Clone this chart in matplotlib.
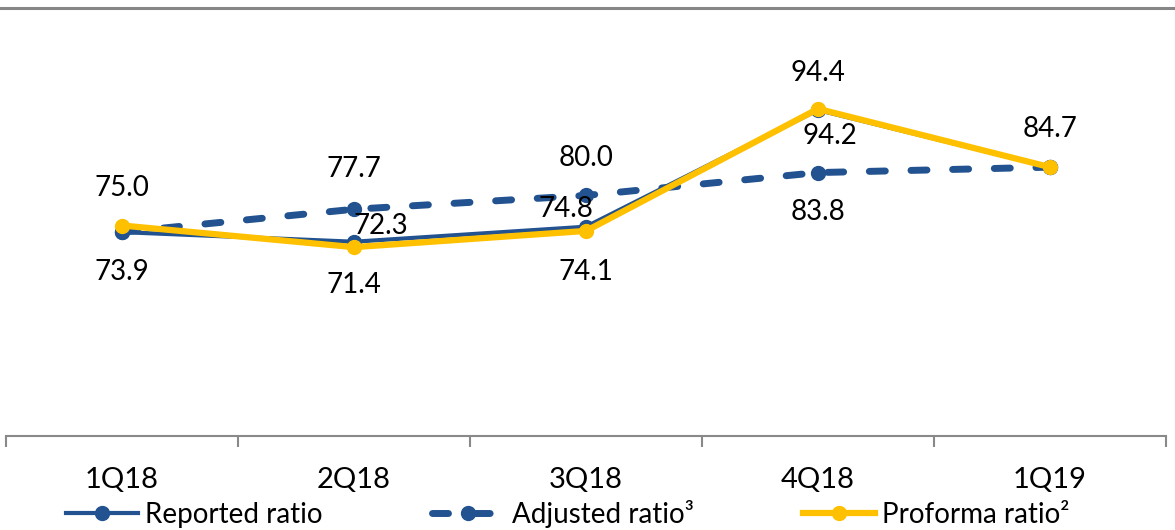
import matplotlib.pyplot as plt
from matplotlib.lines import Line2D

quarters = ["1Q18", "2Q18", "3Q18", "4Q18", "1Q19"]
reported = [73.9, 72.3, 74.8, 94.2, 84.7]
adjusted = [73.9, 77.7, 80.0, 83.8, 84.7]
proforma = [75.0, 71.4, 74.1, 94.4, 84.7]

# label offsets in pixels (None = no label)
reported_off = [(0, -40), (27, 16), (-20, 18), (12, -26), None]
adjusted_off = [None, (0, 40), (0, 37), (0, -39), None]
proforma_off = [(0, 38), (0, -38), (0, -41), (0, 36), (0, 38)]

blue = "#22528F"
yellow = "#FFC000"
gray = "#898989"

plt.rcParams["font.family"] = ["Lato", "DejaVu Sans"]

fig = plt.figure(figsize=(11.75, 5.3), dpi=100)
ax = fig.add_axes([6 / 1175, 94 / 530, 1160 / 1175, 421 / 530])
x = list(range(len(quarters)))

ax.plot(x, adjusted, color=blue, lw=5, dashes=(2.3, 3.7), dash_capstyle="round",
        marker="o", ms=10, label="Adjusted ratio³", zorder=2)
ax.plot(x, reported, color=blue, lw=3, marker="o", ms=10,
        label="Reported ratio", zorder=3)
ax.plot(x, proforma, color=yellow, lw=4.5, marker="o", ms=10,
        label="Proforma ratio²", zorder=4)

for vals, offs in [(reported, reported_off), (adjusted, adjusted_off),
                   (proforma, proforma_off)]:
    for i, (v, off) in enumerate(zip(vals, offs)):
        if off is None:
            continue
        ax.annotate(f"{v:.1f}", (i, v), xytext=off, textcoords="offset pixels",
                    ha="center", va="center", fontsize=20, color="black", zorder=5)

ax.set_xlim(-0.5, 4.5)
ax.set_ylim(40, 110)
ax.set_yticks([])
ax.set_xticks(x)
ax.set_xticklabels(quarters, fontsize=21)
ax.set_xticks([i - 0.5 for i in range(len(quarters) + 1)], minor=True)
ax.tick_params(axis="x", which="major", length=0, pad=22.5)
ax.tick_params(axis="x", which="minor", length=8, width=1.5, color=gray)
for side in ["left", "right", "top"]:
    ax.spines[side].set_visible(False)
ax.spines["bottom"].set_color(gray)
ax.spines["bottom"].set_linewidth(1.5)

# thin rule across the top of the figure
fig.add_artist(Line2D([0, 1], [522 / 530, 522 / 530], color="#868686", lw=2.2,
                      transform=fig.transFigure))

handles, labels = ax.get_legend_handles_labels()
order = [1, 0, 2]
leg = fig.legend([handles[i] for i in order], [labels[i] for i in order],
                 loc="center left", bbox_to_anchor=(66 / 1175, 16 / 530), ncol=3,
                 frameon=False, fontsize=20, handlelength=2.6, handletextpad=0.25,
                 columnspacing=3.95, borderaxespad=0, borderpad=0)

fig.savefig("out.png", dpi=100)
